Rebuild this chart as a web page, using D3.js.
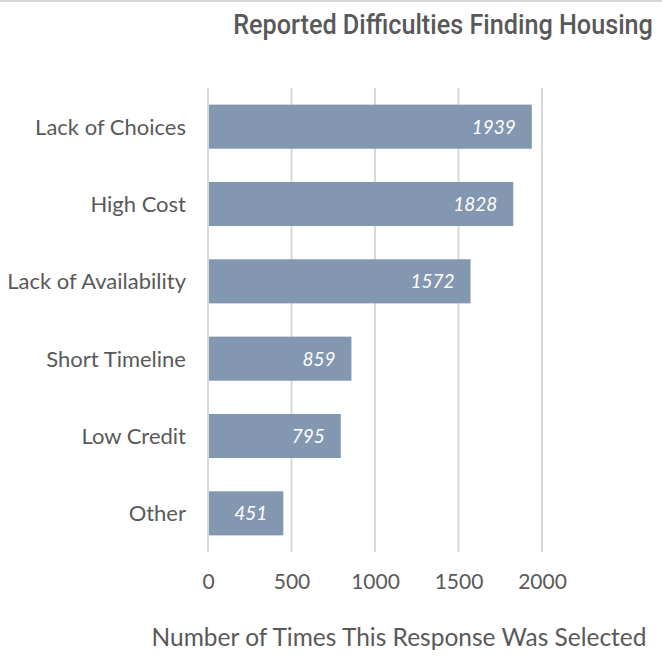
<!DOCTYPE html>
<html><head><meta charset="utf-8">
<script src="https://cdn.jsdelivr.net/npm/d3@7"></script>
<style>body{margin:0;background:#fff}svg{display:block}</style>
</head><body>
<script>
const categories = ["Lack of Choices","High Cost","Lack of Availability","Short Timeline","Low Credit","Other"];
const values = [1939,1828,1572,859,795,451];
const tickValues = [0,500,1000,1500,2000];
const title = "Reported Difficulties Finding Housing";
const xTitle = "Number of Times This Response Was Selected";

const W=662,H=668;
const svg=d3.select("body").append("svg").attr("width",W).attr("height",H);
svg.append("rect").attr("x",0).attr("y",0).attr("width",W).attr("height",2).attr("fill","#d9d9d9");
const x=d3.scaleLinear().domain([0,2000]).range([208,542]);
const y=d3.scaleBand().domain(categories).range([88,552]).paddingInner(0.43).paddingOuter(0.215);
const font="Lato, 'Open Sans', sans-serif";
const grey="#595959";
svg.append("g").selectAll("line").data(tickValues).join("line")
 .attr("x1",d=>x(d)).attr("x2",d=>x(d)).attr("y1",88).attr("y2",552)
 .attr("stroke","#d9d9d9").attr("stroke-width",2);
svg.append("g").selectAll("rect").data(values).join("rect")
 .attr("x",x(0)+1).attr("y",(d,i)=>y(categories[i])).attr("height",y.bandwidth())
 .attr("width",d=>x(d)-x(0)-1).attr("fill","#8497B0");
svg.append("g").selectAll("text").data(values).join("text")
 .attr("x",d=>x(d)-16).attr("y",(d,i)=>y(categories[i])+y.bandwidth()/2).attr("dy","0.36em")
 .attr("text-anchor","end").attr("fill","#fff").attr("font-style","italic")
 .attr("font-family",font).attr("font-size",19).text(d=>d);
const ya=svg.append("g").attr("transform","translate(208,0)").call(d3.axisLeft(y).tickSize(0).tickPadding(22));
ya.select(".domain").remove();
ya.selectAll("text").attr("font-family",font).attr("font-size",22).attr("fill",grey).attr("dy","0.36em");
const xa=svg.append("g").attr("transform","translate(0,552)").call(d3.axisBottom(x).tickValues(tickValues).tickFormat(d3.format("d")).tickSize(0).tickPadding(22));
xa.select(".domain").remove();
xa.selectAll("text").attr("font-family",font).attr("font-size",21).attr("fill",grey);
// title: fit natural width to target, then stretch vertically
const tg=svg.append("g").attr("transform","translate(443,34)");
const tt=tg.append("text").attr("text-anchor","middle")
 .attr("font-family","Roboto, sans-serif").attr("font-weight",500)
 .attr("font-size",27).attr("fill",grey).text(title);
const nat=tt.node().getComputedTextLength();
const fs=27*420/nat;
tt.attr("font-size",fs);
tg.attr("transform",`translate(443,34) scale(1,${27/fs})`);
svg.append("text").attr("x",399).attr("y",646).attr("text-anchor","middle")
 .attr("font-family",font).attr("font-size",24.5).attr("fill",grey).text(xTitle);
</script>
</body></html>
